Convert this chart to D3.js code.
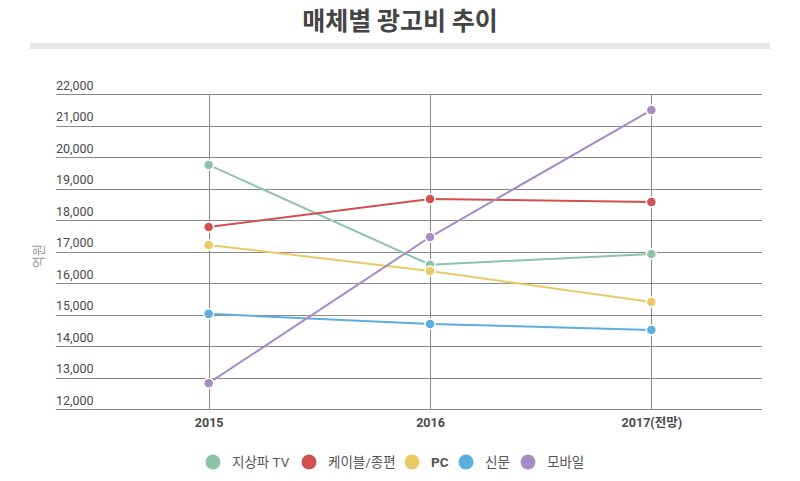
<!DOCTYPE html>
<html><head><meta charset="utf-8">
<script src="https://cdn.jsdelivr.net/npm/d3@7"></script>
<style>body{margin:0;background:#fff;font-family:Roboto,"Noto Sans CJK KR",sans-serif}</style>
</head><body><svg id="c" width="800" height="481"></svg>
<script>
const categories = ["2015", "2016", "2017(전망)"];
const seriesNames = ["지상파 TV", "케이블/종편", "PC", "신문", "모바일"];
const colors = ["#8dc3a7", "#d35050", "#ebc965", "#5aafe0", "#a68cc5"];
const tvValues = [19750, 16580, 16920];
const cableValues = [17780, 18670, 18570];
const pcValues = [17210, 16380, 15400];
const paperValues = [15020, 14700, 14510];
const mobileValues = [12820, 17460, 21490];
const yTicks = [12000,13000,14000,15000,16000,17000,18000,19000,20000,21000,22000];

const series = [tvValues, cableValues, pcValues, paperValues, mobileValues];
const svg = d3.select("#c");
const KR = "'Noto Sans CJK KR',sans-serif";

svg.append("text").attr("x",400).attr("y",30).attr("text-anchor","middle")
  .attr("font-size",25).attr("font-weight","bold").attr("fill","#444").attr("font-family",KR)
  .text("매체별 광고비 추이");
svg.append("rect").attr("x",30).attr("y",43).attr("width",740).attr("height",6).attr("fill","#e6e6e6");

const x = d3.scalePoint().domain(categories).range([98,762]).padding(0.5);
const y = d3.scaleLinear().domain([12000,22000]).range([409,94]);

const g = svg.append("g");
const yAxis = d3.axisLeft(y).tickValues(yTicks).tickSize(-(762-56)).tickFormat(d3.format(","));
const ya = g.append("g").attr("transform","translate(56,0)").call(yAxis);
ya.select(".domain").remove();
ya.selectAll(".tick line").attr("stroke","#8a8a8a").attr("stroke-width",1).attr("shape-rendering","crispEdges");
ya.selectAll(".tick text").attr("x",0).attr("dy",-5).attr("text-anchor","start")
  .attr("font-size",12.5).attr("fill","#4a4a4a").attr("font-family","Roboto");

const xAxis = d3.axisBottom(x).tickSize(-(409-94)).tickPadding(9);
const xa = g.append("g").attr("transform","translate(0,409)").call(xAxis);
xa.select(".domain").remove();
xa.selectAll(".tick line").attr("stroke","#8a8a8a").attr("stroke-width",1).attr("shape-rendering","crispEdges");
xa.selectAll(".tick text").attr("font-size",12.5).attr("font-weight","bold").attr("fill","#4a4a4a").attr("font-family","Roboto,'Noto Sans CJK KR'");

svg.append("text").attr("transform","translate(43,256) rotate(-90)").attr("text-anchor","middle")
  .attr("font-size",13).attr("fill","#999").attr("font-family",KR).text("억원");

const line = d3.line().x((d,i)=>x(categories[i])).y(d=>y(d));
series.forEach((vals,si)=>{
  g.append("path").datum(vals).attr("d",line).attr("fill","none")
    .attr("stroke",colors[si]).attr("stroke-width",2);
});
series.forEach((vals,si)=>{
  g.selectAll(null).data(vals).enter().append("circle")
    .attr("cx",(d,i)=>x(categories[i])).attr("cy",d=>y(d)).attr("r",5)
    .attr("fill",colors[si]).attr("stroke","#fff").attr("stroke-width",1.5);
});

const legX = [213, 309, 412, 466, 528];
const lg = svg.append("g");
seriesNames.forEach((n,i)=>{
  lg.append("circle").attr("cx",legX[i]).attr("cy",462).attr("r",7.5).attr("fill",colors[i]);
  lg.append("text").attr("x",legX[i]+19).attr("y",467).attr("font-size",13.5)
    .attr("fill","#555").attr("font-family","Roboto,'Noto Sans CJK KR'")
    .attr("font-weight", /^[A-Z]+$/.test(n) ? "bold" : "normal")
    .text(n);
});
</script></body></html>
